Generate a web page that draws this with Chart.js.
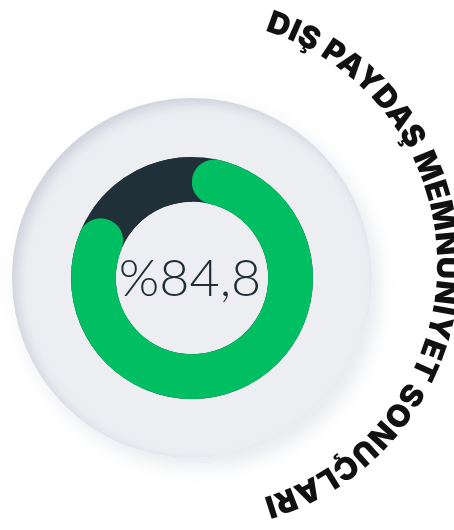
<!DOCTYPE html>
<html>
<head>
<meta charset="utf-8">
<script src="https://cdn.jsdelivr.net/npm/chart.js@4.4.0/dist/chart.umd.min.js"></script>
<style>
  html,body{margin:0;padding:0;background:#fff;}
  #wrap{position:relative;width:454px;height:530px;overflow:hidden;}
  .plate{position:absolute;left:12px;top:98px;width:360px;height:360px;border-radius:50%;
    background:radial-gradient(circle at 47% 47%, #eceef2 0%, #eceef2 72%, #e4e6ec 87%, #d6d9e2 100%);
    box-shadow:inset 5px 5px 12px rgba(150,155,175,0.35), 7px 9px 18px rgba(190,194,206,0.35);}
  #chart{position:absolute;left:0;top:0;}
  svg{position:absolute;left:0;top:0;}
</style>
</head>
<body>
<div id="wrap">
  <div class="plate"></div>
  <canvas id="chart" width="454" height="530"></canvas>
  <svg width="454" height="530" viewBox="0 0 454 530">
    <defs>
      <path id="arcPath" d="M 193 264 m 0 -244 a 244 244 0 1 1 0 488 a 244 244 0 1 1 0 -488"/>
    </defs>
    <text font-family="Inter, 'Open Sans', sans-serif" font-weight="900" font-size="31" fill="#111">
      <textPath href="#arcPath" startOffset="384" text-anchor="middle" textLength="622" lengthAdjust="spacing">DIŞ PAYDAŞ MEMNUNIYET SONUÇLARI</textPath>
    </text>
  </svg>
</div>
<script>
const labels = ['Memnun', 'Diğer'];
const values = [84.8, 15.2];
const colors = ['#00be62', '#1f3038'];
const centerLabel = '%84,8';

// dark track under the ring, so the rounded green ends sit on it
const trackPlugin = {
  id: 'track',
  beforeDatasetsDraw(chart) {
    const arc = chart.getDatasetMeta(0).data[0];
    if (!arc) return;
    const ctx = chart.ctx;
    ctx.save();
    ctx.beginPath();
    ctx.arc(arc.x, arc.y, arc.outerRadius, 0, Math.PI * 2);
    ctx.arc(arc.x, arc.y, arc.innerRadius, 0, Math.PI * 2, true);
    ctx.fillStyle = colors[1];
    ctx.fill();
    ctx.restore();
  },
  afterDatasetsDraw(chart) {
    const arc = chart.getDatasetMeta(0).data[0];
    const ctx = chart.ctx;
    ctx.save();
    ctx.font = '300 52px Lato, sans-serif';
    ctx.fillStyle = '#1f2e36';
    ctx.textAlign = 'center';
    ctx.textBaseline = 'middle';
    ctx.fillText(centerLabel, arc.x - 2, arc.y + 1);
    ctx.restore();
  }
};

new Chart(document.getElementById('chart'), {
  type: 'doughnut',
  data: {
    labels: labels,
    datasets: [{
      data: values,
      backgroundColor: colors,
      borderWidth: 0,
      borderRadius: [60, 0],
      hoverOffset: 0
    }]
  },
  options: {
    responsive: false,
    animation: false,
    cutout: '63%',
    layout: { padding: { left: 71, top: 157, right: 141, bottom: 131 } },
    plugins: { legend: { display: false }, tooltip: { enabled: false } },
    events: []
  },
  plugins: [trackPlugin]
});
</script>
</body>
</html>
